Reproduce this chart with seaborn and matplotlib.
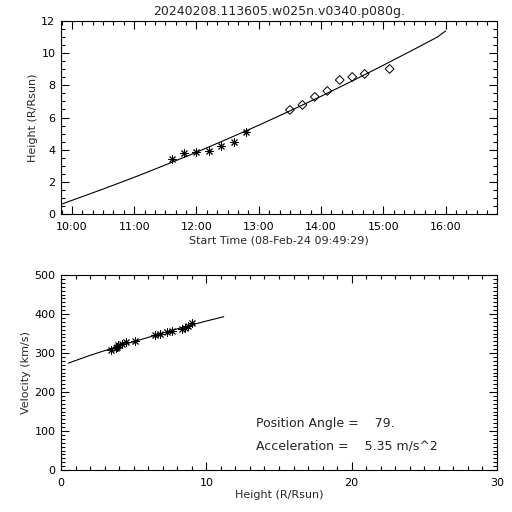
import numpy as np
import pandas as pd
import seaborn as sns
import matplotlib
matplotlib.use("Agg")
import matplotlib.pyplot as plt
from matplotlib.ticker import MultipleLocator

# height-time points
c2_times = ["11:36", "11:48", "12:00", "12:12", "12:24", "12:36", "12:48"]
c2_height = [3.42, 3.79, 3.86, 3.92, 4.23, 4.48, 5.10]
c3_times = ["13:30", "13:42", "13:54", "14:06", "14:18", "14:30", "14:42", "15:06"]
c3_height = [6.47, 6.78, 7.28, 7.65, 8.33, 8.52, 8.71, 9.02]

# fitted height curve
fit_times = ["09:49:29", "10:30", "11:00", "11:30", "12:00", "12:30", "13:00",
             "13:30", "14:00", "14:30", "15:00", "15:30", "15:52", "16:00"]
fit_height = [0.60, 1.55, 2.28, 3.05, 3.84, 4.67, 5.52,
              6.41, 7.32, 8.27, 9.25, 10.25, 11.00, 11.38]

# velocity vs height
vel_points = [308, 312, 316, 320, 324, 328, 331,
              345, 349, 353, 357, 361, 365, 368, 376]
vfit_height = [0.5, 2, 4, 6, 8, 10, 11.2]
vfit_vel = [274, 294, 318, 340, 362, 382, 393]

hour_ticks = ["10:00", "11:00", "12:00", "13:00", "14:00", "15:00", "16:00"]

title = "20240208.113605.w025n.v0340.p080g."
pos_angle = "79."
accel = "5.35"


def to_hours(s):
    parts = [int(p) for p in s.split(":")]
    while len(parts) < 3:
        parts.append(0)
    return parts[0] + parts[1] / 60 + parts[2] / 3600


t0 = to_hours("09:49:29")

sns.set_style("ticks")
plt.rcParams['font.family'] = ['DejaVu Sans']
plt.rcParams['font.size'] = 8

fig = plt.figure(figsize=(5.12, 5.12), dpi=100)
ax1 = fig.add_axes([61 / 512, 1 - 214 / 512, 436 / 512, 193 / 512])
ax2 = fig.add_axes([61 / 512, 1 - 470 / 512, 436 / 512, 195 / 512])

df_c2 = pd.DataFrame({"t": [to_hours(s) for s in c2_times], "h": c2_height})
df_c3 = pd.DataFrame({"t": [to_hours(s) for s in c3_times], "h": c3_height})
df_fit = pd.DataFrame({"t": [to_hours(s) for s in fit_times], "h": fit_height})

sns.lineplot(data=df_fit, x="t", y="h", ax=ax1, color="black", lw=0.8,
             sort=False, estimator=None)
sns.scatterplot(data=df_c2, x="t", y="h", ax=ax1, marker=(8, 2, 0), s=28,
                color="black", linewidth=0.7)
sns.scatterplot(data=df_c3, x="t", y="h", ax=ax1, marker="D", s=20,
                facecolor="none", edgecolor="black", linewidth=0.7)

ax1.set_xlim(t0, t0 + 7)
ax1.set_ylim(0, 12)
ax1.set_xticks([to_hours(s) for s in hour_ticks])
ax1.set_xticklabels(hour_ticks)
ax1.xaxis.set_minor_locator(MultipleLocator(1 / 6))
ax1.yaxis.set_major_locator(MultipleLocator(2))
ax1.yaxis.set_minor_locator(MultipleLocator(0.5))
ax1.set_xlabel("Start Time (08-Feb-24 09:49:29)", labelpad=2.5)
ax1.set_ylabel("Height (R/Rsun)", labelpad=2.3)
ax1.set_title(title, fontsize=9, pad=4)

df_v = pd.DataFrame({"h": c2_height + c3_height, "v": vel_points})
df_vfit = pd.DataFrame({"h": vfit_height, "v": vfit_vel})
sns.lineplot(data=df_vfit, x="h", y="v", ax=ax2, color="black", lw=0.8,
             sort=False, estimator=None)
sns.scatterplot(data=df_v, x="h", y="v", ax=ax2, marker=(8, 2, 0), s=28,
                color="black", linewidth=0.7)
ax2.set_xlim(0, 30)
ax2.set_ylim(0, 500)
ax2.xaxis.set_major_locator(MultipleLocator(10))
ax2.xaxis.set_minor_locator(MultipleLocator(1))
ax2.yaxis.set_major_locator(MultipleLocator(100))
ax2.yaxis.set_minor_locator(MultipleLocator(10))
ax2.set_xlabel("Height (R/Rsun)", labelpad=1)
ax2.set_ylabel("Velocity (km/s)", labelpad=2.3)
ax2.text(13.4, 118, "Position Angle =    " + pos_angle, fontsize=9, va="center")
ax2.text(13.4, 62, "Acceleration =    " + accel + " m/s^2", fontsize=9, va="center")

for ax in (ax1, ax2):
    for sp in ax.spines.values():
        sp.set_visible(True)
        sp.set_linewidth(0.8)
        sp.set_color("black")
    ax.tick_params(which="both", direction="in", top=True, right=True,
                   width=0.8, colors="black", labelsize=8)
    ax.tick_params(axis="x", which="both", pad=6)
    ax.tick_params(axis="y", which="both", pad=4)
    ax.tick_params(which="major", length=6)
    ax.tick_params(which="minor", length=3)

fig.savefig("out.png", dpi=100, facecolor="white")
